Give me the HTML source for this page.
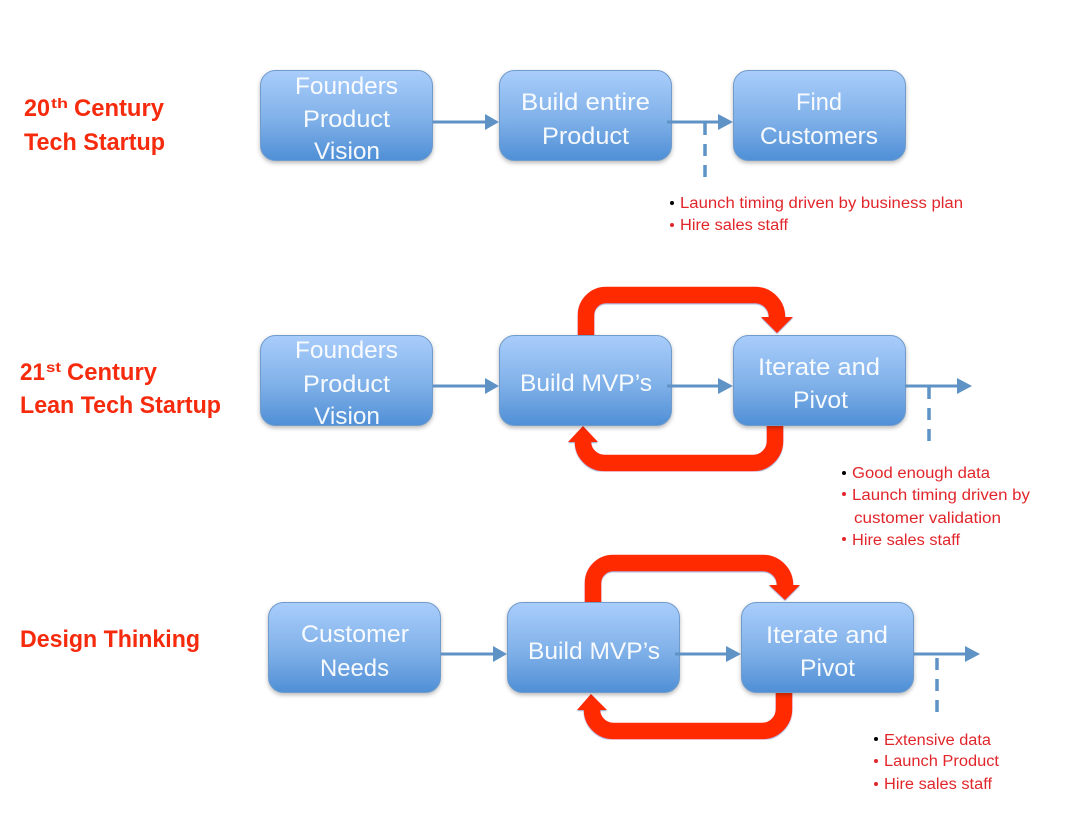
<!DOCTYPE html>
<html><head><meta charset="utf-8">
<style>
html,body{margin:0;padding:0;background:#fff;width:1073px;height:814px;overflow:hidden}
svg{display:block;filter:blur(.35px)}
text{font-family:"Liberation Sans",sans-serif}
.b{fill:#fff;font-size:24px;text-anchor:start;opacity:.94}
.h{fill:#f62a0c;font-size:24px;font-weight:bold}
.s{fill:#f62a0c;font-size:14px;font-weight:bold}
.t{fill:#e1262b;font-size:15.5px}
.red{fill:none;stroke:#ff2a00;stroke-width:16.5}
.line{fill:none;stroke:#5f93c6;stroke-width:3}
.dash{fill:none;stroke:#5f93c6;stroke-width:3.5;stroke-dasharray:12 9}
.hd{fill:#5f93c6}
.rh{fill:#ff2a00}
</style></head>
<body>
<svg width="1073" height="814" viewBox="0 0 1073 814" xmlns="http://www.w3.org/2000/svg">
<defs>
<linearGradient id="g" x1="0" y1="0" x2="0" y2="1">
<stop offset="0" stop-color="#a9cdfb"/><stop offset=".55" stop-color="#7fb0e8"/><stop offset="1" stop-color="#4f8fd6"/>
</linearGradient>
<filter id="sh" x="-10%" y="-10%" width="120%" height="125%">
<feDropShadow dx="0" dy="2" stdDeviation="2" flood-color="#000" flood-opacity=".28"/>
</filter>
<filter id="rs" x="-5%" y="-5%" width="110%" height="110%">
<feDropShadow dx="0" dy="1" stdDeviation=".6" flood-color="#3a5aa0" flood-opacity=".55"/>
</filter>
</defs>

<!-- Red loops row 2 -->
<g filter="url(#rs)">
<path class="red" d="M586 336V315A20 20 0 0 1 606 295H755A22 22 0 0 1 777 317V318"/>
<polygon class="rh" points="761,317 793,317 777,333"/>
<path class="red" d="M775 424V441A22 22 0 0 1 753 463H605A22 21 0 0 1 583 442"/>
<polygon class="rh" points="568,442 598,442 583,426"/>
</g>

<!-- Red loops row 3 -->
<g filter="url(#rs)">
<path class="red" d="M593 603V583A20 20 0 0 1 613 563H763A22 22 0 0 1 785 585V586"/>
<polygon class="rh" points="769,585 800,585 785,600"/>
<path class="red" d="M784 691V709A22 22 0 0 1 762 731H613A22 21 0 0 1 592 710"/>
<polygon class="rh" points="577,710 607,710 591,694"/>
</g>

<!-- Boxes -->
<g fill="url(#g)" stroke="#6f9bcb" stroke-width="1" filter="url(#sh)">
<rect x="260.500" y="70.500" width="172" height="90" rx="15"/>
<rect x="499.500" y="70.500" width="172" height="90" rx="15"/>
<rect x="733.500" y="70.500" width="172" height="90" rx="15"/>
<rect x="260.500" y="335.500" width="172" height="90" rx="15"/>
<rect x="499.500" y="335.500" width="172" height="90" rx="15"/>
<rect x="733.500" y="335.500" width="172" height="90" rx="15"/>
<rect x="268.500" y="602.500" width="172" height="90" rx="15"/>
<rect x="507.500" y="602.500" width="172" height="90" rx="15"/>
<rect x="741.500" y="602.500" width="172" height="90" rx="15"/>
</g>

<!-- Row 1 connectors -->
<path class="line" d="M433 122H487"/><polygon class="hd" points="485,114 499,122 485,130"/>
<path class="line" d="M667 122H721"/><polygon class="hd" points="718,114 733,122 718,130"/>
<path class="dash" d="M705 123V178"/>

<!-- Row 2 connectors -->
<path class="line" d="M433 386H487"/><polygon class="hd" points="485,378 499,386 485,394"/>
<path class="line" d="M667 386H721"/><polygon class="hd" points="718,378 733,386 718,394"/>
<path class="line" d="M905 386H960"/><polygon class="hd" points="957,378 972,386 957,394"/>
<path class="dash" d="M929 387V442"/>

<!-- Row 3 connectors -->
<path class="line" d="M441 654H495"/><polygon class="hd" points="493,646 507,654 493,662"/>
<path class="line" d="M675 654H729"/><polygon class="hd" points="726,646 741,654 726,662"/>
<path class="line" d="M914 654H968"/><polygon class="hd" points="965,646 980,654 965,662"/>
<path class="dash" d="M937 658V714"/>

<!-- Box text -->
<text class="b" x="295" y="94" textLength="103" lengthAdjust="spacingAndGlyphs">Founders</text>
<text class="b" x="303" y="127" textLength="87" lengthAdjust="spacingAndGlyphs">Product</text>
<text class="b" x="314" y="159" textLength="66" lengthAdjust="spacingAndGlyphs">Vision</text>
<text class="b" x="521" y="110" textLength="129" lengthAdjust="spacingAndGlyphs">Build entire</text>
<text class="b" x="542" y="144" textLength="87" lengthAdjust="spacingAndGlyphs">Product</text>
<text class="b" x="796" y="110" textLength="46" lengthAdjust="spacingAndGlyphs">Find</text>
<text class="b" x="760" y="144" textLength="118" lengthAdjust="spacingAndGlyphs">Customers</text>

<text class="b" x="295" y="358" textLength="103" lengthAdjust="spacingAndGlyphs">Founders</text>
<text class="b" x="303" y="392" textLength="87" lengthAdjust="spacingAndGlyphs">Product</text>
<text class="b" x="314" y="424" textLength="66" lengthAdjust="spacingAndGlyphs">Vision</text>
<text class="b" x="520" y="391" textLength="132" lengthAdjust="spacingAndGlyphs">Build MVP’s</text>
<text class="b" x="758" y="375" textLength="122" lengthAdjust="spacingAndGlyphs">Iterate and</text>
<text class="b" x="793" y="408" textLength="55" lengthAdjust="spacingAndGlyphs">Pivot</text>

<text class="b" x="301" y="642" textLength="108" lengthAdjust="spacingAndGlyphs">Customer</text>
<text class="b" x="320" y="676" textLength="69" lengthAdjust="spacingAndGlyphs">Needs</text>
<text class="b" x="528" y="659" textLength="132" lengthAdjust="spacingAndGlyphs">Build MVP’s</text>
<text class="b" x="766" y="643" textLength="122" lengthAdjust="spacingAndGlyphs">Iterate and</text>
<text class="b" x="800" y="676" textLength="55" lengthAdjust="spacingAndGlyphs">Pivot</text>

<!-- Headings -->
<text class="h" x="24" y="116" textLength="26" lengthAdjust="spacingAndGlyphs">20</text>
<text class="s" x="51" y="108" textLength="17" lengthAdjust="spacingAndGlyphs">th</text>
<text class="h" x="74" y="116" textLength="90" lengthAdjust="spacingAndGlyphs">Century</text>
<text class="h" x="24" y="150" textLength="141" lengthAdjust="spacingAndGlyphs">Tech Startup</text>
<text class="h" x="20" y="380" textLength="25" lengthAdjust="spacingAndGlyphs">21</text>
<text class="s" x="46" y="372" textLength="15" lengthAdjust="spacingAndGlyphs">st</text>
<text class="h" x="67" y="380" textLength="90" lengthAdjust="spacingAndGlyphs">Century</text>
<text class="h" x="20" y="413" textLength="201" lengthAdjust="spacingAndGlyphs">Lean Tech Startup</text>
<text class="h" x="20" y="647" textLength="180" lengthAdjust="spacingAndGlyphs">Design Thinking</text>

<!-- Notes row 1 -->
<circle cx="672" cy="203" r="2" fill="#000"/>
<text class="t" x="680" y="208" textLength="283" lengthAdjust="spacingAndGlyphs">Launch timing driven by business plan</text>
<circle cx="672" cy="225" r="2" fill="#e1262b"/>
<text class="t" x="680" y="230" textLength="108" lengthAdjust="spacingAndGlyphs">Hire sales staff</text>

<!-- Notes row 2 -->
<circle cx="844" cy="473" r="2" fill="#000"/>
<text class="t" x="852" y="478" textLength="138" lengthAdjust="spacingAndGlyphs">Good enough data</text>
<circle cx="844" cy="494" r="2" fill="#e1262b"/>
<text class="t" x="852" y="500" textLength="178" lengthAdjust="spacingAndGlyphs">Launch timing driven by</text>
<text class="t" x="854" y="523" textLength="147" lengthAdjust="spacingAndGlyphs">customer validation</text>
<circle cx="844" cy="539" r="2" fill="#e1262b"/>
<text class="t" x="852" y="545" textLength="108" lengthAdjust="spacingAndGlyphs">Hire sales staff</text>

<!-- Notes row 3 -->
<circle cx="876" cy="739" r="2" fill="#000"/>
<text class="t" x="884" y="745" textLength="107" lengthAdjust="spacingAndGlyphs">Extensive data</text>
<circle cx="876" cy="761" r="2" fill="#e1262b"/>
<text class="t" x="884" y="766" textLength="115" lengthAdjust="spacingAndGlyphs">Launch Product</text>
<circle cx="876" cy="784" r="2" fill="#e1262b"/>
<text class="t" x="884" y="789" textLength="108" lengthAdjust="spacingAndGlyphs">Hire sales staff</text>
</svg>
</body></html>
